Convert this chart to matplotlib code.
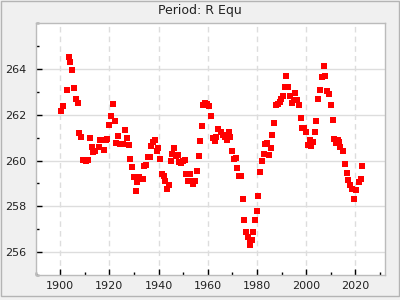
import matplotlib
matplotlib.use("Agg")
import matplotlib.pyplot as plt
from matplotlib.patches import Rectangle
from matplotlib.ticker import MultipleLocator

title = "Period: R Equ"

years = [
    1900.4, 1901.2, 1902.8, 1903.6, 1904.1, 1904.9, 1905.7, 1906.5, 1907.3, 1907.7,
    1908.5, 1909.3, 1910.5, 1911.4, 1912.2, 1913.0, 1913.4, 1914.2, 1915.8, 1916.2,
    1917.8, 1918.7, 1919.2, 1919.9, 1920.7, 1921.5, 1922.3, 1922.7, 1923.5, 1924.3,
    1925.5, 1926.4, 1927.2, 1928.0, 1928.4, 1929.2, 1929.9, 1930.8, 1931.0, 1931.2,
    1932.0, 1933.5, 1934.1, 1934.9, 1935.7, 1936.5, 1936.9, 1937.7, 1938.5, 1939.3,
    1939.7, 1940.6, 1941.4, 1942.2, 1942.6, 1943.4, 1944.2, 1945.0, 1945.4, 1946.2,
    1947.0, 1947.9, 1948.3, 1949.1, 1949.9, 1950.7, 1951.2, 1951.8, 1952.9, 1953.7,
    1953.9, 1954.7, 1955.6, 1956.4, 1956.8, 1957.6, 1958.0, 1958.8, 1959.6, 1960.4,
    1961.2, 1962.0, 1962.9, 1963.3, 1964.1, 1965.3, 1966.1, 1966.9, 1967.7, 1968.5,
    1968.9, 1969.7, 1970.6, 1971.4, 1971.8, 1972.6, 1973.4, 1974.2, 1974.6, 1975.4,
    1976.2, 1977.0, 1977.2, 1977.9, 1978.3, 1979.1, 1979.9, 1980.3, 1981.1, 1981.9,
    1982.7, 1983.1, 1983.9, 1984.8, 1985.6, 1986.0, 1986.8, 1987.6, 1988.4, 1989.2,
    1989.6, 1990.4, 1991.2, 1991.6, 1992.5, 1993.3, 1994.1, 1994.9, 1995.3, 1996.1,
    1996.9, 1997.7, 1998.1, 1998.9, 1999.8, 2000.6, 2001.4, 2001.8, 2002.6, 2003.4,
    2003.8, 2004.6, 2005.4, 2006.2, 2007.1, 2007.5, 2008.3, 2009.1, 2009.9, 2010.7,
    2011.1, 2011.9, 2012.7, 2013.5, 2013.9, 2014.8, 2015.6, 2016.4, 2016.8, 2017.6,
    2018.4, 2019.2, 2019.6, 2020.4, 2021.3, 2022.1, 2022.5,
]

period = [
    262.16, 262.38, 263.07, 264.51, 264.30, 263.94, 263.16, 262.68, 262.51, 261.20,
    261.03, 260.03, 259.99, 260.03, 260.99, 260.60, 260.38, 260.42, 260.60, 260.90,
    260.47, 260.90, 260.93, 261.55, 261.94, 262.47, 261.73, 260.77, 261.07, 260.73,
    260.73, 261.33, 260.99, 260.68, 260.07, 259.73, 259.29, 259.29, 258.68, 259.07,
    259.29, 259.20, 259.77, 259.81, 260.16, 260.16, 260.64, 260.81, 260.90, 260.42,
    260.55, 260.07, 259.42, 259.33, 259.12, 258.77, 258.94, 259.99, 260.29, 260.55,
    260.20, 260.25, 259.94, 259.90, 259.99, 260.03, 259.42, 259.10, 259.42, 259.12,
    258.99, 259.13, 259.55, 260.20, 260.86, 261.51, 262.42, 262.53, 262.47, 262.38,
    261.94, 260.99, 260.86, 261.03, 261.38, 261.25, 261.12, 261.03, 260.90, 261.25,
    261.03, 260.42, 260.07, 260.12, 259.68, 259.33, 259.33, 258.33, 257.42, 256.90,
    256.68, 256.51, 256.33, 256.55, 256.90, 257.42, 257.81, 258.46, 259.51, 259.99,
    260.29, 260.73, 260.77, 260.25, 260.55, 261.12, 261.64, 262.42, 262.47, 262.55,
    262.68, 262.81, 263.20, 263.68, 263.20, 262.81, 262.51, 262.64, 262.94, 262.64,
    262.42, 261.86, 261.42, 261.42, 261.25, 260.68, 260.90, 260.64, 260.81, 261.25,
    261.73, 262.68, 263.07, 263.64, 264.12, 263.68, 263.03, 262.90, 262.42, 261.77,
    260.94, 260.77, 260.90, 260.81, 260.60, 260.42, 259.86, 259.46, 259.16, 258.94,
    258.77, 258.33, 258.33, 258.73, 259.07, 259.20, 259.77,
]

xticks = [1900, 1920, 1940, 1960, 1980, 2000, 2020]
yticks = [256, 258, 260, 262, 264]

fig = plt.figure(figsize=(4, 3), dpi=100, facecolor="#f0f0f0")
fig.patches.append(Rectangle((0.003, 0.014), 0.994, 0.982, transform=fig.transFigure,
                             fill=False, edgecolor="#b4b4b4", linewidth=1.0))
ax = fig.add_axes([0.089, 0.0833, 0.8735, 0.839])
ax.set_facecolor("white")

ax.plot(years, period, linestyle="none", marker="s", markersize=4.4,
        markerfacecolor="#ff0000", markeredgewidth=0, zorder=3)

ax.set_xlim(1890, 2032)
ax.set_ylim(255, 266)
ax.set_xticks(xticks)
ax.set_yticks(yticks)
ax.xaxis.set_minor_locator(MultipleLocator(10))
ax.yaxis.set_minor_locator(MultipleLocator(1))

ax.grid(axis="x", which="major", color="#dddddd", linestyle=(0, (4, 3)), linewidth=1.0)
ax.grid(axis="y", which="major", color="#dddddd", linestyle="-", linewidth=1.0)
ax.set_axisbelow(True)

for s in ax.spines.values():
    s.set_color("#bbbbbb")
    s.set_linewidth(1.0)

ax.tick_params(which="major", direction="in", length=4, width=1, colors="black",
               labelsize=8, labelcolor="#222222")
ax.tick_params(which="minor", direction="in", length=2.5, width=1, colors="black")
ax.tick_params(axis="y", pad=6.5)
ax.tick_params(axis="x", pad=4)

fig.text(0.5, 1 - 10.7 / 300, title, ha="center", va="center", fontsize=9, color="#222222")

fig.savefig("out.png", dpi=100, facecolor=fig.get_facecolor())
